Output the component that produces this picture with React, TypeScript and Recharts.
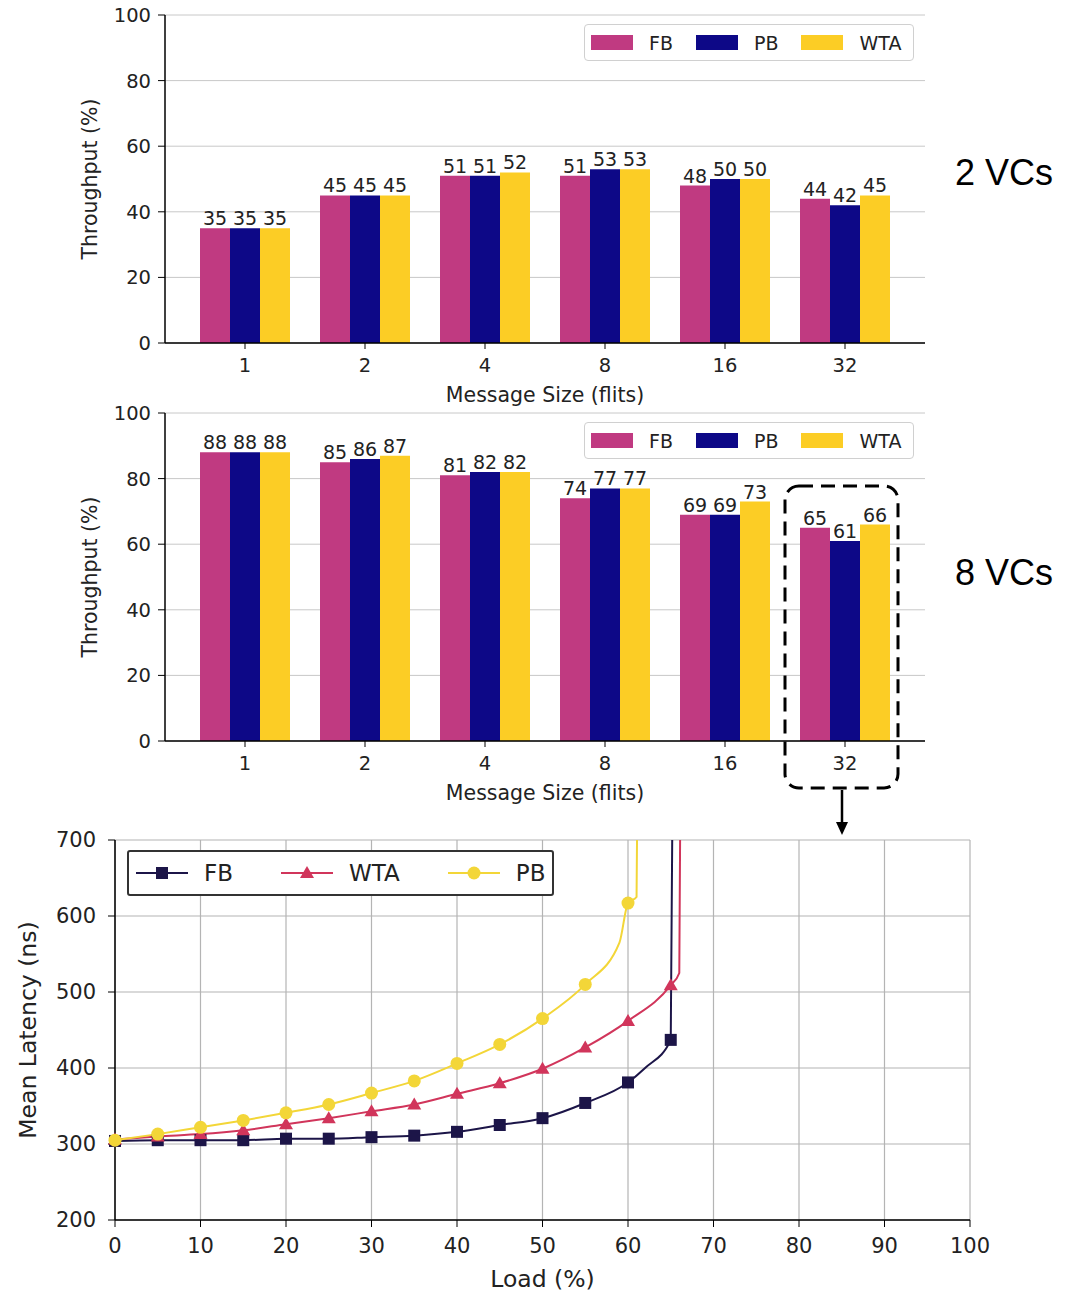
import React from "react";
import {
  BarChart,
  Bar,
  XAxis,
  YAxis,
  CartesianGrid,
  LabelList,
  LineChart,
  Line,
} from "recharts";

// message sizes (flits)
const sizes = ["1", "2", "4", "8", "16", "32"];

// 2 VCs throughput (%)
const fb2 = [35, 45, 51, 51, 48, 44];
const pb2 = [35, 45, 51, 53, 50, 42];
const wta2 = [35, 45, 52, 53, 50, 45];

// 8 VCs throughput (%)
const fb8 = [88, 85, 81, 74, 69, 65];
const pb8 = [88, 86, 82, 77, 69, 61];
const wta8 = [88, 87, 82, 77, 73, 66];

const throughputTicks = [0, 20, 40, 60, 80, 100];

// latency vs load
const loadFB = [0, 5, 10, 15, 20, 25, 30, 35, 40, 45, 50, 55, 60, 62, 65, 65.3];
const latFB = [304, 305, 305, 305, 307, 307, 309, 311, 316, 325, 334, 354, 381, 400, 437, 900];
const loadWTA = [0, 5, 10, 15, 20, 25, 30, 35, 40, 45, 50, 55, 60, 65, 66, 66.2];
const latWTA = [306, 310, 313, 318, 326, 334, 343, 352, 366, 380, 399, 427, 462, 509, 525, 900];
const loadPB = [0, 5, 10, 15, 20, 25, 30, 35, 40, 45, 50, 55, 59, 60, 61, 61.2];
const latPB = [305, 313, 322, 331, 341, 352, 367, 383, 406, 431, 465, 510, 565, 617, 625, 900];

const loadTicks = [0, 10, 20, 30, 40, 50, 60, 70, 80, 90, 100];
const latTicks = [200, 300, 400, 500, 600, 700];

const C_FB = "#c03a81";
const C_PB = "#0d0887";
const C_WTA = "#fccd25";

const L_FB = "#1c1548";
const L_WTA = "#d1355b";
const L_PB = "#f3d638";

const FONT = "'DejaVu Sans', sans-serif";
const TXT = "#222";

function BarLegend({ top }: { top: number }) {
  const items = [
    { name: "FB", color: C_FB },
    { name: "PB", color: C_PB },
    { name: "WTA", color: C_WTA },
  ];
  return (
    <div
      style={{
        position: "absolute",
        left: 584,
        top,
        width: 330,
        display: "flex",
        alignItems: "center",
        border: "1px solid #d0d0d0",
        borderRadius: 4,
        height: 37,
        padding: "0 0 0 6px",
        fontFamily: FONT,
        fontSize: 19,
        color: TXT,
        background: "#fff",
        boxSizing: "border-box",
      }}
    >
      {items.map((it, i) => (
        <div key={it.name} style={{ display: "flex", alignItems: "center", marginRight: i < 2 ? 23 : 0 }}>
          <div style={{ width: 42, height: 15, background: it.color, marginRight: 16 }} />
          <span>{it.name}</span>
        </div>
      ))}
    </div>
  );
}

function ThroughputChart({ fb, pb, wta }: { fb: number[]; pb: number[]; wta: number[] }) {
  const data = sizes.map((s, i) => ({ size: s, FB: fb[i], PB: pb[i], WTA: wta[i] }));
  const tick = { fontFamily: FONT, fontSize: 19.5, fill: TXT };
  const valueLabel = { fontFamily: FONT, fontSize: 19, fill: TXT };
  const title = { fontFamily: FONT, fontSize: 20.5, fill: TXT };
  return (
    <BarChart
      width={940}
      height={415}
      data={data}
      margin={{ top: 15, right: 15, left: 80, bottom: 10 }}
      barCategoryGap="12.5%"
      barGap={0}
    >
      <CartesianGrid horizontal vertical={false} stroke="#c8c8c8" />
      <XAxis
        dataKey="size"
        height={62}
        padding={{ left: 20, right: 20 }}
        tick={tick}
        tickSize={6}
        tickMargin={9}
        stroke="#000"
        axisLine={{ stroke: "#000", strokeWidth: 1.5 }}
        label={{ value: "Message Size (flits)", position: "insideBottom", offset: 3, style: title }}
      />
      <XAxis xAxisId="top" dataKey="size" orientation="top" height={0} tick={false} tickLine={false} axisLine={{ stroke: "#000", strokeWidth: 1.5 }} />
      <YAxis
        width={85}
        domain={[0, 100]}
        ticks={throughputTicks}
        tick={tick}
        tickSize={7}
        tickMargin={7}
        stroke="#000"
        axisLine={{ stroke: "#000", strokeWidth: 1.5 }}
        label={{ value: "Throughput (%)", angle: -90, position: "insideLeft", offset: 10, style: { ...title, textAnchor: "middle" } }}
      />
      <YAxis yAxisId="right" orientation="right" width={0} domain={[0, 100]} tick={false} tickLine={false} axisLine={{ stroke: "#000", strokeWidth: 1.5 }} />
      <Bar dataKey="FB" fill={C_FB} isAnimationActive={false}>
        <LabelList dataKey="FB" position="top" offset={3} style={valueLabel} />
      </Bar>
      <Bar dataKey="PB" fill={C_PB} isAnimationActive={false}>
        <LabelList dataKey="PB" position="top" offset={3} style={valueLabel} />
      </Bar>
      <Bar dataKey="WTA" fill={C_WTA} isAnimationActive={false}>
        <LabelList dataKey="WTA" position="top" offset={3} style={valueLabel} />
      </Bar>
    </BarChart>
  );
}

type Shape = "square" | "triangle" | "circle";

function Marker({ cx, cy, shape, color }: { cx: number; cy: number; shape: Shape; color: string }) {
  if (shape === "square") return <rect x={cx - 6} y={cy - 6} width={12} height={12} fill={color} />;
  if (shape === "triangle")
    return <polygon points={`${cx},${cy - 7} ${cx + 7},${cy + 5} ${cx - 7},${cy + 5}`} fill={color} />;
  return <circle cx={cx} cy={cy} r={6.5} fill={color} />;
}

function makeDot(shape: Shape, color: string) {
  return (props: any) => {
    const { cx, cy, payload, index } = props;
    if (payload.load % 5 !== 0 || cx == null || cy == null) return <g key={`d${index}`} />;
    return (
      <g key={`d${index}`}>
        <Marker cx={cx} cy={cy} shape={shape} color={color} />
      </g>
    );
  };
}

function LineLegend() {
  const items: { name: string; color: string; shape: Shape; gap: number }[] = [
    { name: "FB", color: L_FB, shape: "square", gap: 48 },
    { name: "WTA", color: L_WTA, shape: "triangle", gap: 48 },
    { name: "PB", color: L_PB, shape: "circle", gap: 0 },
  ];
  return (
    <div
      style={{
        position: "absolute",
        left: 127,
        top: 850,
        display: "flex",
        alignItems: "center",
        border: "2px solid #333",
        borderRadius: 3,
        height: 46,
        width: 427,
        padding: "0 0 0 7px",
        boxSizing: "border-box",
        fontFamily: FONT,
        fontSize: 23,
        color: TXT,
        background: "#fff",
      }}
    >
      {items.map((it) => (
        <div key={it.name} style={{ display: "flex", alignItems: "center", marginRight: it.gap }}>
          <svg width={52} height={20} style={{ marginRight: 16 }}>
            <line x1={0} y1={10} x2={52} y2={10} stroke={it.color} strokeWidth={2} />
            <Marker cx={26} cy={10} shape={it.shape} color={it.color} />
          </svg>
          <span>{it.name}</span>
        </div>
      ))}
    </div>
  );
}

function LatencyChart() {
  const fbData = loadFB.map((l, i) => ({ load: l, lat: latFB[i] }));
  const wtaData = loadWTA.map((l, i) => ({ load: l, lat: latWTA[i] }));
  const pbData = loadPB.map((l, i) => ({ load: l, lat: latPB[i] }));
  const tick = { fontFamily: FONT, fontSize: 21, fill: TXT };
  const title = { fontFamily: FONT, fontSize: 23.5, fill: TXT };
  return (
    <LineChart width={1000} height={493} margin={{ top: 40, right: 30, left: 10, bottom: 0 }}>
      <CartesianGrid stroke="#b4b4b4" strokeWidth={1.2} />
      <XAxis
        type="number"
        dataKey="load"
        domain={[0, 100]}
        ticks={loadTicks}
        height={73}
        tick={tick}
        tickSize={7}
        tickMargin={11}
        stroke="#000"
        axisLine={{ stroke: "#000", strokeWidth: 1.5 }}
        label={{ value: "Load (%)", position: "insideBottom", offset: 6, style: title }}
      />
      <XAxis xAxisId="top" type="number" orientation="top" domain={[0, 100]} height={0} tick={false} tickLine={false} axisLine={{ stroke: "#000", strokeWidth: 1.5 }} />
      <YAxis
        type="number"
        domain={[200, 700]}
        ticks={latTicks}
        allowDataOverflow
        width={105}
        tick={tick}
        tickSize={7}
        tickMargin={12}
        stroke="#000"
        axisLine={{ stroke: "#000", strokeWidth: 1.5 }}
        label={{ value: "Mean Latency (ns)", angle: -90, position: "insideLeft", offset: 18, style: { ...title, textAnchor: "middle" } }}
      />
      <YAxis yAxisId="right" orientation="right" width={0} domain={[0, 1]} tick={false} tickLine={false} axisLine={{ stroke: "#000", strokeWidth: 1.5 }} />
      <Line data={fbData} dataKey="lat" name="FB" type="monotone" stroke={L_FB} strokeWidth={2} dot={makeDot("square", L_FB)} activeDot={false} isAnimationActive={false} />
      <Line data={wtaData} dataKey="lat" name="WTA" type="monotone" stroke={L_WTA} strokeWidth={2} dot={makeDot("triangle", L_WTA)} activeDot={false} isAnimationActive={false} />
      <Line data={pbData} dataKey="lat" name="PB" type="monotone" stroke={L_PB} strokeWidth={2} dot={makeDot("circle", L_PB)} activeDot={false} isAnimationActive={false} />
    </LineChart>
  );
}

export default function App() {
  return (
    <div style={{ position: "absolute", left: 0, top: 0, width: 1084, height: 1293, background: "#fff" }}>
      <div style={{ position: "absolute", left: 0, top: 0 }}>
        <ThroughputChart fb={fb2} pb={pb2} wta={wta2} />
      </div>
      <div style={{ position: "absolute", left: 0, top: 398 }}>
        <ThroughputChart fb={fb8} pb={pb8} wta={wta8} />
      </div>
      <div style={{ position: "absolute", left: 0, top: 800 }}>
        <LatencyChart />
      </div>
      <BarLegend top={24} />
      <BarLegend top={422} />
      <LineLegend />
      <svg width={1084} height={1293} style={{ position: "absolute", left: 0, top: 0, pointerEvents: "none" }}>
        <text x={955} y={185} fontFamily="'Liberation Sans', Arial, sans-serif" fontSize={36} fill="#000">2 VCs</text>
        <text x={955} y={585} fontFamily="'Liberation Sans', Arial, sans-serif" fontSize={36} fill="#000">8 VCs</text>
        <rect x={785} y={486} width={113} height={302} rx={14} fill="none" stroke="#000" strokeWidth={3} strokeDasharray="14 8" />
        <line x1={842} y1={790} x2={842} y2={823} stroke="#000" strokeWidth={2.5} />
        <polygon points="836,822 848,822 842,835" fill="#000" />
      </svg>
    </div>
  );
}
